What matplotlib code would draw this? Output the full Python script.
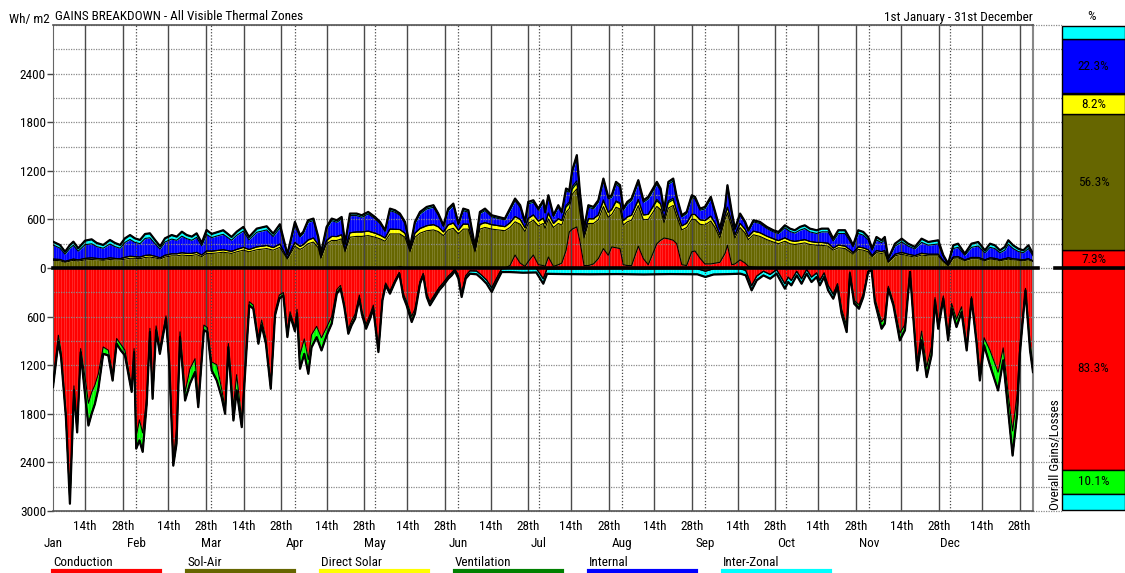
import numpy as np
import matplotlib
matplotlib.use("Agg")
import matplotlib.pyplot as plt
from matplotlib.lines import Line2D
from matplotlib import font_manager as fm

# prefer a narrow sans face for the labels; fall back to a smaller regular one
_names = {f.name for f in fm.fontManager.ttflist}
_narrow = [n for n in ['Liberation Sans Narrow', 'Arial Narrow', 'Nimbus Sans Narrow', 'Roboto Condensed',
                       'Open Sans Condensed', 'Noto Sans Condensed', 'DejaVu Sans Condensed'] if n in _names]
if _narrow:
    plt.rcParams['font.family'] = [_narrow[0], 'Liberation Sans', 'DejaVu Sans']
    FS = 9.5
else:
    plt.rcParams['font.family'] = ['Liberation Sans', 'DejaVu Sans']
    FS = 8.6

# ---------------- gains (Wh/m2, stacked upward) ----------------
gain_day = [0, 2.6, 4.5, 6.3, 7.6, 9.4, 11.9, 14.4, 16.3, 18.7, 21.2, 23.1, 25, 26.8, 28.7, 30.5,
            32.4, 34.3, 36.1, 38, 39.9, 41.7, 44.2, 46.1, 48, 49.8, 51.7, 53.5, 55.4, 57.2, 59.1,
            61, 63.4, 66.5, 68.5, 70.9, 73, 75.9, 79.6, 82, 84.5, 87.3, 90.1, 92, 93.2, 95, 97,
            98.8, 99.8, 101.9, 103.8, 105.7, 107.5, 108.8, 110.6, 113.1, 115, 117.4, 119.9, 121.8,
            123.7, 125.5, 127.4, 129.2, 131.1, 133, 134.8, 136.7, 139.2, 141.7, 143.5, 145.4, 147.2,
            149.1, 151, 152.8, 154.7, 157.2, 159, 160.9, 163.4, 165.9, 168.3, 170.2, 172.1, 174,
            175.8, 177, 178.9, 180.8, 182.6, 183.3, 184.5, 186.4, 188.2, 189.5, 191.1, 192.3, 193.4,
            195.1, 196.3, 197.8, 199.4, 201.3, 203.1, 205, 206.8, 208.1, 209.7, 211.2, 212.4, 213.9,
            215.5, 218, 219.9, 221.7, 224.9, 226.3, 227.6, 229.2, 231, 232.3, 234.2, 236, 237.9,
            239.1, 241, 242.8, 245, 246.6, 248.4, 250.3, 251.2, 252.8, 254, 255.9, 257.8, 259,
            260.9, 263.3, 265.9, 268.3, 270.2, 272.6, 274.5, 276.3, 278.2, 280, 281.9, 284.4, 286.3,
            288.7, 290.6, 292.5, 295, 296.8, 298, 299.9, 301.8, 303.6, 305.1, 306.7, 308.6, 309.8,
            311.1, 313.6, 316.1, 318.5, 321, 323.5, 326, 329.7, 331.6, 333.4, 335.3, 337.1, 339.6,
            342.1, 344.6, 347.1, 349, 350.8, 352.7, 354.5, 355.8, 357.6, 359.5, 361.4, 363.3, 365]

conduction_gain = [0] * 63 + [20] + [0] * 19 + [30, 160, 60, 20, 80, 160, 40, 30, 20, 136, 20, 40, 60,
                   218, 445, 480, 507, 321, 30, 30, 50, 115, 239, 157, 260, 250, 239, 40, 30, 30, 270,
                   115, 40, 300, 342, 370, 360, 342, 300, 40, 30, 200, 210, 120, 50, 50, 60, 70, 180,
                   280, 40, 50, 100, 60, 20, 10] + [0] * 51

solair_gain = [95, 90, 70, 85, 95, 85, 100, 105, 100, 95, 105, 100, 100, 110, 120, 120, 115, 130, 135,
               125, 110, 135, 150, 150, 160, 155, 155, 165, 140, 180, 180, 185, 195, 180, 200, 220,
               200, 225, 240, 220, 255, 110, 270, 230, 250, 300, 320, 250, 120, 300, 340, 340, 360,
               200, 380, 390, 390, 400, 380, 360, 330, 420, 420, 400, 380, 200, 380, 430, 460, 470,
               450, 400, 470, 490, 420, 480, 480, 200, 480, 500, 480, 470, 460, 470, 410, 480, 430,
               470, 430, 480, 520, 470, 470, 480, 510, 470, 470, 290, 430, 470, 350, 340, 520, 500,
               480, 520, 470, 400, 500, 490, 490, 540, 560, 500, 480, 560, 460, 380, 190, 380, 430,
               340, 430, 470, 400, 390, 420, 480, 530, 440, 300, 420, 400, 470, 320, 400, 370, 330,
               400, 390, 350, 320, 300, 330, 300, 290, 300, 310, 290, 280, 280, 270, 220, 250, 240,
               200, 170, 230, 220, 200, 140, 190, 180, 190, 70, 150, 170, 150, 135, 160, 150, 150,
               80, 30, 120, 125, 90, 115, 115, 90, 110, 105, 90, 100, 110, 100, 95, 90, 100, 80]

direct_solar_gain = [15, 15, 12, 14, 15, 15, 18, 20, 18, 15, 20, 18, 15, 22, 25, 20, 20, 25, 25, 20,
                     15, 22, 25, 25, 28, 25, 25, 28, 20, 30, 28, 30, 30, 25, 30, 35, 28, 35, 38, 32,
                     40, 12, 45, 35, 38, 45, 50, 35, 15, 40, 50, 48, 50, 25, 55, 55, 55, 55, 50, 45,
                     40, 60, 58, 55, 48, 20, 50, 58, 62, 65, 58, 45, 62, 65, 48, 62, 60, 20, 58, 60,
                     55, 52, 50, 58, 65, 60, 45, 62, 65, 58, 65, 55, 65, 50, 58, 55, 65, 60, 65, 70,
                     60, 40, 58, 58, 60, 68, 60, 62, 68, 65, 55, 60, 62, 68, 60, 62, 68, 65, 50, 68,
                     70, 60, 50, 52, 62, 60, 55, 55, 60, 50, 40, 55, 62, 52, 40, 50, 45, 38, 45, 45,
                     42, 40, 38, 42, 40, 38, 40, 40, 38, 35, 35, 35, 25, 32, 30, 25, 20, 30, 28, 25,
                     15, 25, 22, 25, 8, 20, 22, 20, 18, 22, 20, 20, 10, 4, 15, 15, 10, 15, 15, 12,
                     15, 14, 12, 14, 16, 14, 12, 12, 14, 10]

ventilation_gain = [0] * 92 + [10, 0, 0, 0, 20, 20, 30, 30, 10, 0, 0, 0, 0, 15, 0, 0, 10, 10, 0, 0,
                    0, 10, 0, 0, 20, 10, 0, 20, 20, 0, 0, 0, 0, 0, 0, 0, 0, 0, 0, 0, 10] + [0] * 57

internal_gain = [175, 140, 89, 145, 170, 108, 169, 174, 146, 134, 171, 146, 129, 184, 207, 176, 166,
                 210, 213, 156, 107, 164, 182, 167, 205, 182, 162, 185, 114, 204, 167, 180, 191,
                 138, 175, 202, 120, 181, 192, 137, 200, 40, 210, 119, 137, 219, 215, 83, 40, 147,
                 195, 176, 195, 66, 212, 202, 181, 212, 180, 144, 81, 228, 210, 177, 121, 35, 119,
                 179, 207, 215, 144, 67, 176, 215, 65, 166, 148, 35, 134, 148, 96, 88, 85, 150,
                 197, 150, 59, 179, 156, 135, 196, 132, 192, 86, 142, 92, 183, 120, 172, 286, 153,
                 66, 142, 121, 156, 232, 166, 151, 205, 193, 128, 161, 180, 206, 156, 191, 185,
                 159, 88, 205, 212, 153, 111, 120, 211, 193, 118, 144, 213, 122, 66, 79, 245, 110,
                 66, 102, 79, 66, 114, 114, 95, 86, 87, 125, 111, 103, 127, 137, 118, 111, 131, 141,
                 87, 144, 156, 107, 70, 166, 157, 123, 64, 133, 110, 133, 32, 100, 130, 100, 82,
                 135, 111, 127, 52, 15, 105, 115, 57, 125, 141, 86, 130, 121, 86, 106, 166, 126,
                 97, 86, 126, 62]

interzonal_gain = [40, 39, 30, 40, 45, 35, 50, 55, 45, 40, 50, 45, 40, 50, 55, 50, 45, 55, 55, 45,
                   35, 45, 50, 45, 55, 45, 45, 50, 35, 55, 45, 45, 50, 40, 45, 50, 35, 45, 45, 35,
                   45, 8, 44, 20, 20, 25, 25, 15, 5, 20, 25, 25, 25, 10, 25, 25, 25, 25, 20, 20, 15,
                   25, 25, 20, 20, 5, 20, 25, 25, 25, 20, 15, 25, 25, 15, 25, 25, 5, 20, 25, 20, 20,
                   15, 25, 25, 25, 15, 25, 25, 20, 25, 15, 25, 15, 25, 15, 25, 25, 30, 30, 25, 10,
                   25, 25, 25, 30, 25, 25, 30, 25, 20, 25, 25, 30, 25, 25, 30, 25, 15, 30, 30, 25,
                   20, 20, 25, 25, 20, 25, 25, 20, 10, 20, 25, 20, 10, 20, 15, 12, 20, 20, 20, 20,
                   20, 30, 35, 35, 40, 40, 40, 40, 40, 40, 30, 40, 40, 30, 20, 40, 40, 35, 20, 35,
                   30, 35, 5, 30, 40, 30, 25, 45, 40, 45, 15, 5, 40, 45, 20, 45, 50, 30, 45, 40, 30,
                   40, 50, 40, 35, 30, 40, 25]

# ---------------- losses (Wh/m2, stacked downward) ----------------
loss_day = [0, 2, 3, 4.8, 6.3, 7.8, 9, 10.3, 12.3, 13.2, 14.4, 15.6, 16.9, 18.7, 20.6, 22.2, 23.7,
            25.3, 26.8, 29.3, 30.2, 31, 32.2, 33.4, 34.9, 36.1, 37.1, 38.4, 39.8, 42.1, 43.3, 44.8,
            46, 47.3, 49.2, 51, 52.9, 54.1, 56.2, 57.5, 59.1, 61, 62.8, 64.1, 65.3, 67.2, 68.4,
            70.3, 73.1, 74.6, 76.5, 77.7, 79.3, 81.1, 82.7, 84.3, 85.8, 87.3, 88.3, 90.1, 90.9, 92,
            93.6, 95.1, 96.3, 98.2, 100, 101.9, 103.8, 105.7, 107.1, 108.5, 110, 111.2, 112.5,
            114.1, 115, 116.6, 118.1, 119.3, 121.2, 122.7, 123.9, 125.5, 127.4, 129, 130.5, 131.7,
            133.6, 134.8, 136.7, 137.9, 139.2, 140.4, 142.3, 143.8, 145.4, 147.2, 148.5, 149.7, 151,
            152.2, 153.7, 155.3, 157.8, 159.7, 161.5, 163.4, 165.2, 167.1, 170, 175, 180, 182.6,
            184, 190, 200, 210, 220, 230, 240, 243, 246, 252, 256, 258, 260.2, 262.1, 264.6, 267.1,
            269.5, 272.6, 273.8, 275, 277, 278.8, 280.7, 282.5, 284.4, 285.6, 287.2, 288.7, 290.6,
            292.2, 293.7, 295.6, 296.8, 298.4, 300.2, 301.8, 303.6, 304.9, 306.1, 308.6, 309.8,
            311.1, 313, 315.4, 317.3, 319.2, 320.4, 321.9, 323.5, 325.4, 327.2, 328.5, 329.7,
            331.6, 333.4, 334.7, 336.5, 338.4, 340.3, 342.1, 344, 345.2, 346.8, 349, 352, 353.9,
            355.5, 357.4, 359.1, 360.1, 362.2, 363.9, 365]

conduction_loss = [1405, 830, 1035, 1785, 2845, 1455, 1985, 995, 1435, 1670, 1535, 1445, 1305, 975,
                   1015, 1305, 870, 945, 1015, 1475, 995, 2075, 1875, 2035, 1595, 745, 1550, 715,
                   985, 591, 1135, 2375, 1985, 788, 1531, 1245, 1120, 1653, 705, 736, 1160, 1195,
                   1490, 1735, 932, 1718, 1317, 1880, 416, 458, 860, 643, 870, 1446, 540, 334, 303,
                   788, 540, 735, 510, 1069, 875, 1131, 825, 720, 863, 730, 600, 267, 215, 442, 757,
                   653, 571, 334, 519, 695, 571, 458, 993, 365, 184, 282, 148, 55, 318, 411, 597,
                   504, 164, 66, 318, 416, 318, 241, 179, 102, 61, 12, 97, 318, 97, 35, 38, 92, 149,
                   247, 128, 10, 5, 8, 5, 134, 12, 10, 10, 8, 10, 8, 10, 40, 10, 8, 10, 30, 220,
                   100, 40, 80, 20, 195, 113, 154, 41, 134, 20, 113, 61, 154, 61, 216, 319, 195,
                   504, 711, 50, 401, 453, 318, 39, 19, 375, 665, 613, 225, 421, 804, 700, 44, 561,
                   1160, 779, 1222, 975, 365, 685, 344, 819, 438, 634, 479, 943, 354, 870, 1284,
                   861, 1018, 1287, 986, 1482, 2011, 1555, 954, 251, 913, 1200]

ventilation_loss = [60, 80, 60, 50, 60, 50, 40, 40, 240, 270, 260, 230, 180, 80, 60, 80, 60, 70, 60,
                    50, 40, 150, 250, 230, 80, 40, 60, 50, 70, 30, 40, 60, 180, 60, 100, 180, 160,
                    60, 60, 50, 100, 190, 100, 60, 40, 160, 190, 80, 40, 40, 70, 60, 60, 40, 40, 40,
                    30, 60, 40, 40, 45, 170, 180, 170, 150, 130, 150, 100, 80, 40, 30, 30, 40, 40,
                    40, 30, 30, 40, 40, 30, 30, 20, 15, 20, 10, 0, 20, 30, 50, 40, 10, 5, 10, 10, 10,
                    5, 5] + [0] * 45 + [10, 0, 30, 60, 0, 20, 30, 20, 0, 0, 30, 70, 60, 20, 30, 80,
                    60, 0, 40, 100, 110, 120, 100, 30, 60, 30, 70, 60, 90, 60, 70, 20, 60, 100, 90,
                    180, 220, 150, 190, 300, 240, 100, 20, 100, 80]

interzonal_loss = [5] * 68 + [8, 10, 10, 10, 15, 15, 15, 15, 15, 15, 15, 15, 15, 15, 15, 15, 15, 15,
                   20, 20, 20, 20, 20, 20, 30, 35, 30, 30, 30, 30, 30, 25, 35, 40, 35, 35, 40, 40,
                   45, 50, 45, 40, 45, 50, 50, 60, 60, 65, 68, 67, 70, 67, 68, 71, 70, 67, 60, 60,
                   56, 52, 51, 52, 50, 60, 60, 60, 50, 60, 50, 60, 50, 60, 50, 60, 50, 40, 30, 20,
                   20, 20, 20, 20, 10, 10, 15, 15, 15, 10, 10, 10, 10] + [5] * 28

# ---------------- annual share (%) ----------------
share_gain_labels = ['Conduction', 'Sol-Air', 'Direct Solar', 'Ventilation', 'Internal', 'Inter-Zonal']
share_gain = [7.3, 56.3, 8.2, 0.4, 22.3, 5.5]
share_loss_labels = ['Conduction', 'Ventilation', 'Inter-Zonal']
share_loss = [83.3, 10.1, 6.6]

months = ['Jan', 'Feb', 'Mar', 'Apr', 'May', 'Jun', 'Jul', 'Aug', 'Sep', 'Oct', 'Nov', 'Dec']
month_start = [0, 31, 59, 90, 120, 151, 181, 212, 243, 273, 304, 334]
legend_names = ['Conduction', 'Sol-Air', 'Direct Solar', 'Ventilation', 'Internal', 'Inter-Zonal']

RED, OLIVE, YELLOW, LIME, BLUE, CYAN = '#ff0000', '#666600', '#ffff00', '#00ff00', '#0000ff', '#00ffff'
legend_colors = [RED, OLIVE, YELLOW, '#008000', BLUE, CYAN]

W, H = 1125, 573
fig = plt.figure(figsize=(W / 100, H / 100), dpi=100)


def fx(px):
    return px / W


def fy(py):
    return 1 - py / H


AX_L, AX_R, AX_T, AX_B = 53, 1033, 25, 511
ax = fig.add_axes([fx(AX_L), fy(AX_B), (AX_R - AX_L) / W, (AX_B - AX_T) / H])
ax.set_xlim(0, 365)
ax.set_ylim(-3000, 3000)
ax.set_facecolor('white')

# stacked gains
gd = np.array(gain_day, dtype=float)
gain_layers = [conduction_gain, solair_gain, direct_solar_gain, ventilation_gain, internal_gain, interzonal_gain]
gain_cols = [RED, OLIVE, YELLOW, LIME, BLUE, CYAN]
prev = np.zeros_like(gd)
for vals, col in zip(gain_layers, gain_cols):
    cur = prev + np.array(vals, dtype=float)
    ax.fill_between(gd, prev, cur, color=col, lw=0, zorder=1)
    ax.plot(gd, cur, color='black', lw=0.8, zorder=3)
    prev = cur
ax.plot(gd, prev, color='black', lw=1.6, zorder=3.5)

# stacked losses
ld = np.array(loss_day, dtype=float)
loss_layers = [conduction_loss, ventilation_loss, interzonal_loss]
loss_cols = [RED, LIME, CYAN]
prev = np.zeros_like(ld)
for vals, col in zip(loss_layers, loss_cols):
    cur = prev - np.array(vals, dtype=float)
    ax.fill_between(ld, prev, cur, color=col, lw=0, zorder=1)
    ax.plot(ld, cur, color='black', lw=0.8, zorder=3)
    prev = cur
ax.plot(ld, prev, color='black', lw=1.6, zorder=3.5)

# daily stripes inside the filled areas
ax.vlines(np.arange(0, 366), -3000, 3000, colors='white', alpha=0.18, lw=0.6, zorder=1.5)

# grid
gap = (1062 - AX_R) / (AX_R - AX_L)
for v in range(-3000, 3001, 300):
    ax.axhline(v, color='#8a8a8a', lw=0.9, ls=(0, (1, 1)), zorder=2, xmin=0, xmax=1 + gap, clip_on=False)
for ms in month_start:
    ax.axvline(ms + 12, color='#4a4a4a', lw=1.0, zorder=2)
    ax.axvline(ms + 26, color='#4a4a4a', lw=1.0, zorder=2)
    if ms > 0:
        ax.axvline(ms, color='#4a4a4a', lw=0.9, ls=(0, (1, 1.5)), zorder=2)

# zero line
ax.axhline(0, color='black', lw=2.6, zorder=5, xmax=1 + 5 / 980, clip_on=False)

# axes frame
for s in ['top', 'bottom']:
    ax.spines[s].set_linestyle((0, (1, 1)))
    ax.spines[s].set_color('#555555')
    ax.spines[s].set_linewidth(1.2)
ax.spines['left'].set_color('#666666')
ax.spines['right'].set_color('#888888')
ax.spines['right'].set_linewidth(1.5)

yt = list(range(-3000, 2401, 600))
ax.set_yticks(yt)
ax.set_yticklabels([str(abs(v)) for v in yt])
ax.tick_params(axis='y', direction='out', length=4, width=1, color='#444444', labelsize=FS, pad=1)
ax.set_xticks([])

xtr = ax.get_xaxis_transform()
for ms in month_start:
    ax.text(ms + 12, -0.031, '14th', transform=xtr, ha='center', va='center', fontsize=FS)
    ax.text(ms + 26, -0.031, '28th', transform=xtr, ha='center', va='center', fontsize=FS)
for m, ms in zip(months, month_start):
    ax.text(ms, -0.066, m, transform=xtr, ha='center', va='center', fontsize=FS)

# header texts
fig.text(fx(50), fy(19), 'Wh/ m2', ha='right', va='center', fontsize=FS)
fig.text(fx(55), fy(17), 'GAINS BREAKDOWN - All Visible Thermal Zones', ha='left', va='center', fontsize=FS)
fig.text(fx(AX_R), fy(17), '1st January - 31st December', ha='right', va='center', fontsize=FS)
fig.text(fx(1092), fy(16), '%', ha='center', va='center', fontsize=FS)

# legend row
for i, (name, col) in enumerate(zip(legend_names, legend_colors)):
    x0 = 53 + i * 134
    fig.text(fx(x0), fy(563), name, ha='left', va='center', fontsize=FS)
    fig.add_artist(Line2D([fx(x0), fx(x0 + 107)], [fy(571), fy(571)], color=col, lw=3))

# annual share bar
bax = fig.add_axes([fx(1062), fy(AX_B), (W - 1062) / W, (AX_B - AX_T) / H])
bax.set_xlim(0, 1)
bax.set_ylim(-100.4, 100.4)
bax.axis('off')
bottom = 0.0
for val, col in zip(share_gain, gain_cols):
    bax.bar(0.5, val, bottom=bottom, width=1.0, color=col, edgecolor='black', lw=1, clip_on=False)
    bottom += val
bottom = 0.0
for val, col in zip(share_loss, loss_cols):
    bax.bar(0.5, -val, bottom=bottom, width=1.0, color=col, edgecolor='black', lw=1, clip_on=False)
    bottom -= val

bottom = 0.0
for lab, val in zip(share_gain_labels, share_gain):
    if val >= 5 and lab != 'Inter-Zonal':
        bax.text(0.5, bottom + val / 2, f'{val}%', ha='center', va='center', fontsize=FS)
    bottom += val
bottom = 0.0
for lab, val in zip(share_loss_labels, share_loss):
    if lab != 'Inter-Zonal':
        bax.text(0.5, bottom - val / 2, f'{val}%', ha='center', va='center', fontsize=FS)
    bottom -= val

fig.add_artist(Line2D([fx(1055), fx(W)], [fy(268), fy(268)], color='black', lw=2.6))
fig.text(fx(1055), fy(510), 'Overall Gains/Losses', rotation=90, ha='center', va='bottom', fontsize=FS)

fig.savefig('out.png', dpi=100)
